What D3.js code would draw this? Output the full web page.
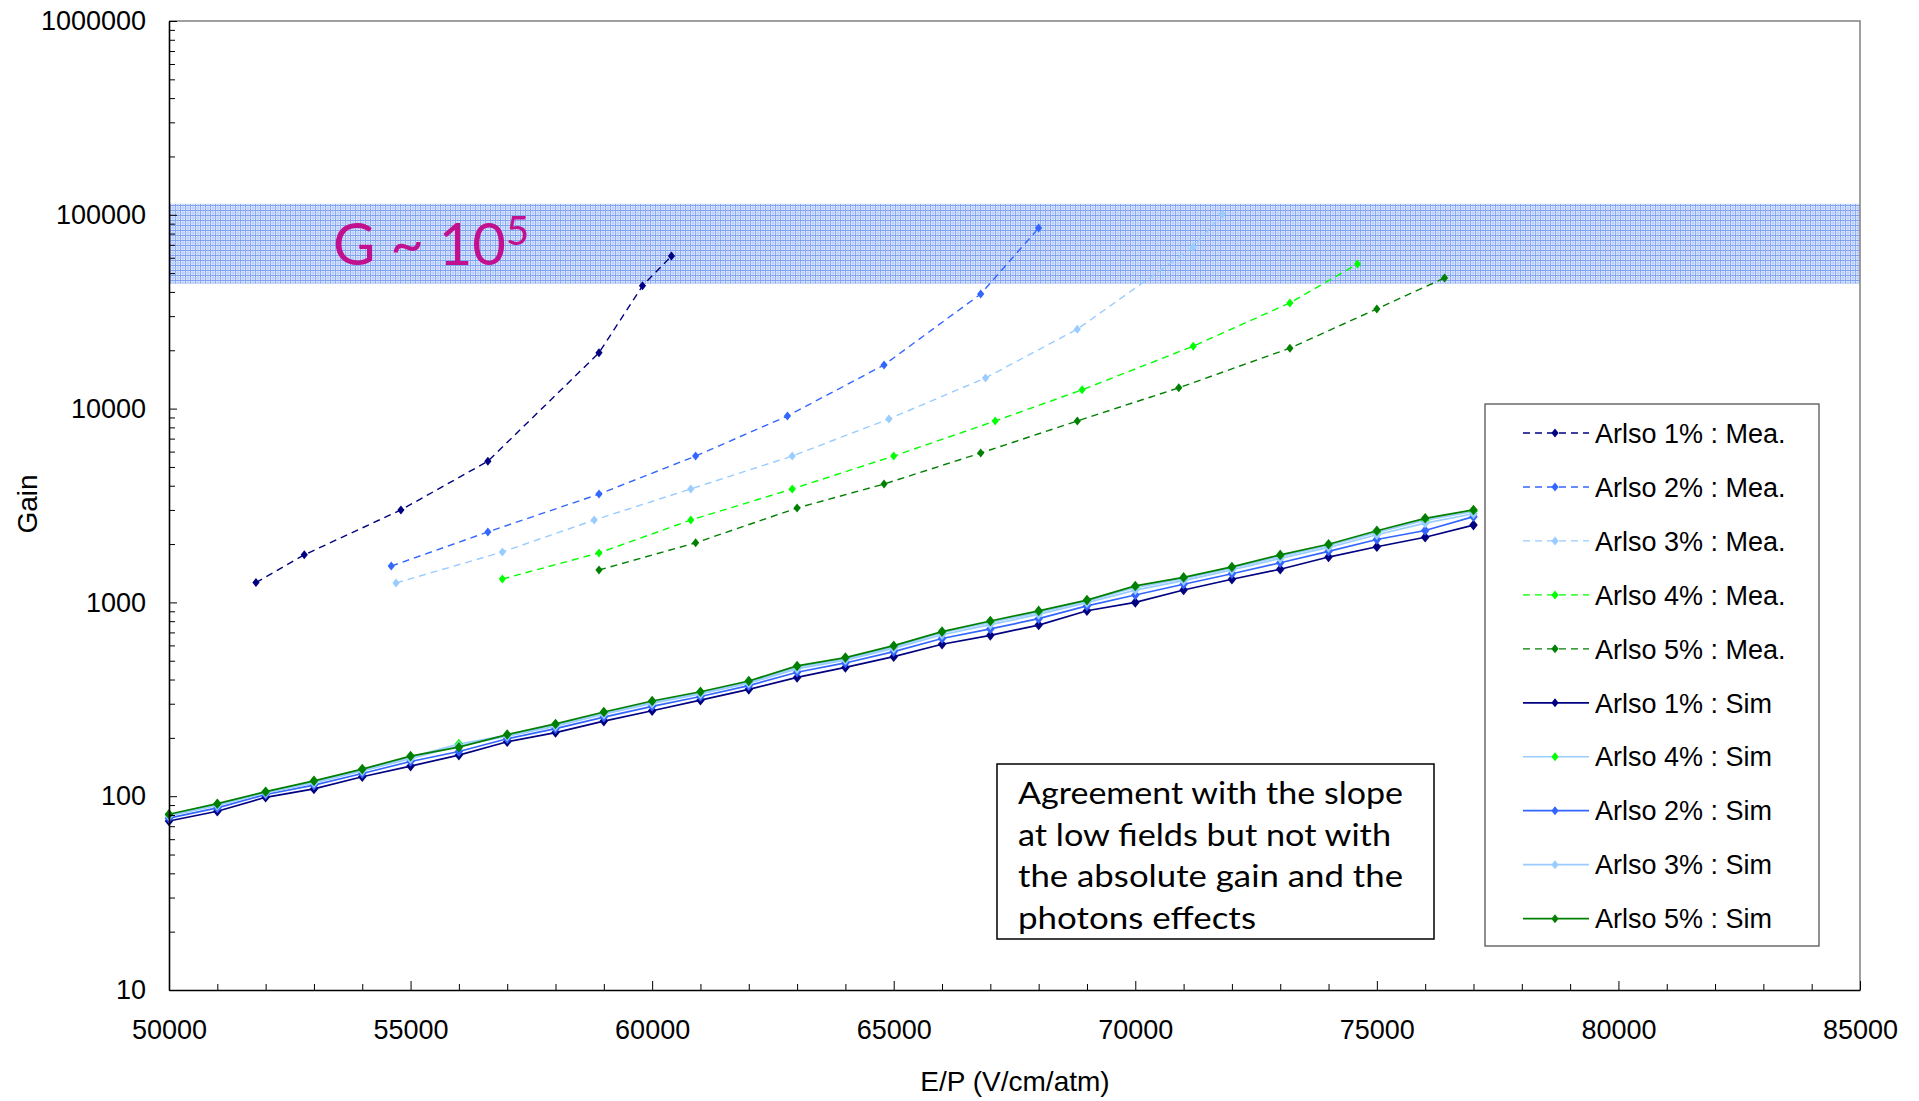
<!DOCTYPE html>
<html>
<head>
<meta charset="utf-8">
<script src="https://cdn.jsdelivr.net/npm/d3@7"></script>
<style>
  body { margin: 0; background: #fff; }
  svg { display: block; font-family: "Liberation Sans", Arial, sans-serif; }
  .tick text { font-size: 27px; fill: #000; }
  .axisLabel { font-size: 28px; fill: #000; }
  .legendText { font-size: 27px; fill: #000; }
  .note { font-family: "Comic Sans MS", "Lato", sans-serif; font-size: 30px; fill: #000; }
</style>
</head>
<body>
<svg width="1919" height="1101"></svg>
<script>
var svg = d3.select('svg');

// measured gain (dashed)
var measX1 = [51800, 52800, 54800, 56600, 58900, 59800, 60400];
var measG1 = [1265, 1760, 3000, 5350, 19400, 43000, 61300];
var measX2 = [54600, 56600, 58900, 60900, 62800, 64800, 66800, 68000];
var measG2 = [1540, 2310, 3620, 5690, 9160, 16800, 39000, 85500];
var measX3 = [54700, 56900, 58800, 60800, 62900, 64900, 66900, 68800, 71200, 71800];
var measG3 = [1260, 1820, 2660, 3850, 5690, 8840, 14400, 25700, 68200, 100900];
var measX4 = [56900, 58900, 60800, 62900, 65000, 67100, 68900, 71200, 73200, 74600];
var measG4 = [1320, 1800, 2660, 3850, 5690, 8630, 12500, 21000, 35100, 55700];
var measX5 = [58900, 60900, 63000, 64800, 66800, 68800, 70900, 73200, 75000, 76400];
var measG5 = [1470, 2030, 3070, 4080, 5900, 8630, 12800, 20500, 32700, 47200];

// simulated gain (solid)
var simX = [50000, 51000, 52000, 53000, 54000, 55000, 56000, 57000, 58000, 59000,
            60000, 61000, 62000, 63000, 64000, 65000, 66000, 67000, 68000, 69000,
            70000, 71000, 72000, 73000, 74000, 75000, 76000, 77000];
var simG1 = [74.5, 83.6, 98.7, 109, 126, 143, 163, 191, 213, 244, 276, 313, 356, 410,
             462, 525, 608, 676, 764, 906, 1000, 1159, 1316, 1483, 1714, 1938, 2168, 2506];
var simG2 = [77, 87, 102, 114, 131, 151, 170, 198, 223, 256, 291, 327, 372, 436,
             487, 557, 651, 730, 824, 959, 1092, 1240, 1406, 1601, 1835, 2111, 2350, 2770];
var simG3 = [79, 89.5, 104, 117, 135, 156, 182, 204, 230, 265, 301, 337, 383, 454,
             504, 579, 681, 768, 867, 996, 1158, 1296, 1469, 1684, 1921, 2234, 2567, 2868];
var simG4 = [80, 90.7, 105, 119, 137, 159, 186, 206, 234, 269, 306, 342, 389, 463,
             513, 590, 697, 788, 889, 1015, 1193, 1326, 1502, 1728, 1965, 2299, 2656, 2946];
var simG5 = [80.7, 91.5, 105.5, 120, 138, 161, 179, 208, 236, 272, 310, 346, 393, 470,
             519, 598, 707, 802, 904, 1028, 1216, 1346, 1524, 1758, 1995, 2344, 2716, 2999];

var xTicks = [50000, 55000, 60000, 65000, 70000, 75000, 80000, 85000];
var yTicks = [10, 100, 1000, 10000, 100000, 1000000];
var bandRange = [44000, 114000];

var navy = '#000080', blue = '#3366ff', sky = '#99ccff', lime = '#00ff00', green = '#008000';

// series table: label, x, y, line colour, marker colour, dashed
var series = [
  {name: 'Arlso 1% : Mea.', xs: measX1, ys: measG1, line: navy,  mark: navy,  dash: true},
  {name: 'Arlso 2% : Mea.', xs: measX2, ys: measG2, line: blue,  mark: blue,  dash: true},
  {name: 'Arlso 3% : Mea.', xs: measX3, ys: measG3, line: sky,   mark: sky,   dash: true},
  {name: 'Arlso 4% : Mea.', xs: measX4, ys: measG4, line: lime,  mark: lime,  dash: true},
  {name: 'Arlso 5% : Mea.', xs: measX5, ys: measG5, line: green, mark: green, dash: true},
  {name: 'Arlso 1% : Sim',  xs: simX,   ys: simG1,  line: navy,  mark: navy,  dash: false},
  {name: 'Arlso 4% : Sim',  xs: simX,   ys: simG4,  line: sky,   mark: lime,  dash: false},
  {name: 'Arlso 2% : Sim',  xs: simX,   ys: simG2,  line: blue,  mark: blue,  dash: false},
  {name: 'Arlso 3% : Sim',  xs: simX,   ys: simG3,  line: sky,   mark: sky,   dash: false},
  {name: 'Arlso 5% : Sim',  xs: simX,   ys: simG5,  line: green, mark: green, dash: false}
];

var plotL = 169, plotR = 1860, plotT = 21, plotB = 990;

var xScale = d3.scaleLinear().domain([50000, 85000]).range([plotL, plotR]);
var yScale = d3.scaleLog().domain([10, 1000000]).range([plotB, plotT]);

// hatched band pattern
var defs = svg.append('defs');
var pat = defs.append('pattern')
    .attr('id', 'grid')
    .attr('width', 5).attr('height', 5)
    .attr('patternUnits', 'userSpaceOnUse');
pat.append('rect').attr('width', 5).attr('height', 5).attr('fill', '#e3ebfd');
pat.append('rect').attr('x', 0).attr('width', 1).attr('height', 5).attr('fill', '#7fa2f1');
pat.append('rect').attr('x', 2.5).attr('width', 1).attr('height', 5).attr('fill', '#b3c8f7');
pat.append('rect').attr('y', 0).attr('width', 5).attr('height', 1).attr('fill', '#7fa2f1');
pat.append('rect').attr('y', 2.5).attr('width', 5).attr('height', 1).attr('fill', '#b3c8f7');

svg.append('rect')
    .attr('x', plotL)
    .attr('y', yScale(bandRange[1]))
    .attr('width', plotR - plotL)
    .attr('height', yScale(bandRange[0]) - yScale(bandRange[1]))
    .attr('fill', 'url(#grid)');

// G ~ 10^5 label
var gLabel = svg.append('text')
    .attr('x', 333)
    .attr('y', 265)
    .attr('fill', '#c1118f')
    .style('font-family', '"Comic Sans MS", "Lato", sans-serif')
    .style('font-size', '58px')
    .text('G ~ 10');
gLabel.append('tspan')
    .attr('dy', -20)
    .style('font-size', '40px')
    .text('5');

var diamondMea = 'M0,-4.5L3.6,0L0,4.5L-3.6,0Z';
var diamondSim = 'M0,-5.3L4.3,0L0,5.3L-4.3,0Z';

var line = d3.line()
    .x(function(d){ return xScale(d[0]); })
    .y(function(d){ return yScale(d[1]); });

// simulated first, measured on top
var order = [5, 6, 7, 8, 9, 0, 1, 2, 3, 4];
order.forEach(function(i){
   var s = series[i];
   var pts = s.xs.map(function(x, j){ return [x, s.ys[j]]; });
   svg.append('path')
       .datum(pts)
       .attr('d', line)
       .attr('fill', 'none')
       .attr('stroke', s.line)
       .attr('stroke-width', s.dash ? 1.4 : 1.7)
       .attr('stroke-dasharray', s.dash ? '7,5' : null);
   svg.selectAll('.m' + i)
       .data(pts)
       .enter()
       .append('path')
       .attr('class', 'm' + i)
       .attr('d', s.dash ? diamondMea : diamondSim)
       .attr('transform', function(d){
           return 'translate(' + xScale(d[0]) + ',' + yScale(d[1]) + ')';
       })
       .attr('fill', s.mark);
});

// minor ticks
var yMinor = [];
yTicks.slice(0, -1).forEach(function(t){
   for (var k = 2; k <= 9; k++) yMinor.push(t * k);
});
var xMinor = d3.range(51000, 85000, 1000).filter(function(v){ return v % 5000 != 0; });

svg.append('g')
   .attr('transform', 'translate(' + plotL + ',0)')
   .call(d3.axisLeft(yScale).tickValues(yMinor).tickFormat('').tickSize(-6).tickSizeOuter(0))
   .call(function(g){ g.select('.domain').remove(); });

svg.append('g')
   .attr('transform', 'translate(0,' + plotB + ')')
   .call(d3.axisBottom(xScale).tickValues(xMinor).tickFormat('').tickSize(-6).tickSizeOuter(0))
   .call(function(g){ g.select('.domain').remove(); });

// plot frame top/right
svg.append('path')
   .attr('d', 'M' + plotL + ',' + plotT + 'H' + plotR + 'V' + plotB)
   .attr('fill', 'none')
   .attr('stroke', '#808080')
   .attr('stroke-width', 1.5);

svg.append('g')
   .attr('class', 'y axis')
   .attr('transform', 'translate(' + plotL + ',0)')
   .call(d3.axisLeft(yScale).tickValues(yTicks).tickFormat(d3.format('d'))
         .tickSize(-8).tickSizeOuter(0).tickPadding(23))
   .call(function(g){ g.select('.domain').attr('stroke-width', 1.6); });

svg.append('g')
   .attr('class', 'x axis')
   .attr('transform', 'translate(0,' + plotB + ')')
   .call(d3.axisBottom(xScale).tickValues(xTicks).tickFormat(d3.format('d'))
         .tickSize(-9).tickSizeOuter(0).tickPadding(30))
   .call(function(g){ g.select('.domain').attr('stroke-width', 1.6); });

svg.selectAll('.axis text').attr('font-family', null).attr('font-size', null);

// axis labels
svg.append('text')
   .attr('class', 'axisLabel')
   .attr('text-anchor', 'middle')
   .attr('x', 1015)
   .attr('y', 1091)
   .text('E/P (V/cm/atm)');

svg.append('text')
   .attr('class', 'axisLabel')
   .attr('text-anchor', 'middle')
   .attr('transform', 'translate(37,504)rotate(-90)')
   .text('Gain');

// annotation box
svg.append('rect')
   .attr('x', 997).attr('y', 764)
   .attr('width', 437).attr('height', 175)
   .attr('fill', '#fff')
   .attr('stroke', '#000')
   .attr('stroke-width', 1.5);

var noteLines = ['Agreement with the slope', 'at low fields but not with',
                 'the absolute gain and the', 'photons effects'];
var noteWidths = [385, 373, 385, 238];
svg.selectAll('.note')
   .data(noteLines)
   .enter()
   .append('text')
   .attr('class', 'note')
   .attr('x', 1018)
   .attr('y', function(d, i){ return 804 + i * 41.7; })
   .attr('textLength', function(d, i){ return noteWidths[i]; })
   .attr('lengthAdjust', 'spacingAndGlyphs')
   .text(function(d){ return d; });

// legend
var legend = svg.append('g');
legend.append('rect')
   .attr('x', 1485).attr('y', 404)
   .attr('width', 334).attr('height', 542)
   .attr('fill', '#fff')
   .attr('stroke', '#555')
   .attr('stroke-width', 1.3);

var item = legend.selectAll('.item')
   .data(series)
   .enter()
   .append('g')
   .attr('class', 'item')
   .attr('transform', function(d, i){ return 'translate(0,' + (433 + i * 53.96) + ')'; });

item.append('line')
   .attr('x1', 1523).attr('x2', 1589)
   .attr('stroke', function(d){ return d.line; })
   .attr('stroke-width', function(d){ return d.dash ? 1.4 : 1.7; })
   .attr('stroke-dasharray', function(d){ return d.dash ? '7,5' : null; });

item.append('path')
   .attr('d', diamondMea)
   .attr('transform', 'translate(1555,0)')
   .attr('fill', function(d){ return d.mark; });

item.append('text')
   .attr('class', 'legendText')
   .attr('x', 1595)
   .attr('dy', '0.36em')
   .text(function(d){ return d.name; });
</script>
</body>
</html>
